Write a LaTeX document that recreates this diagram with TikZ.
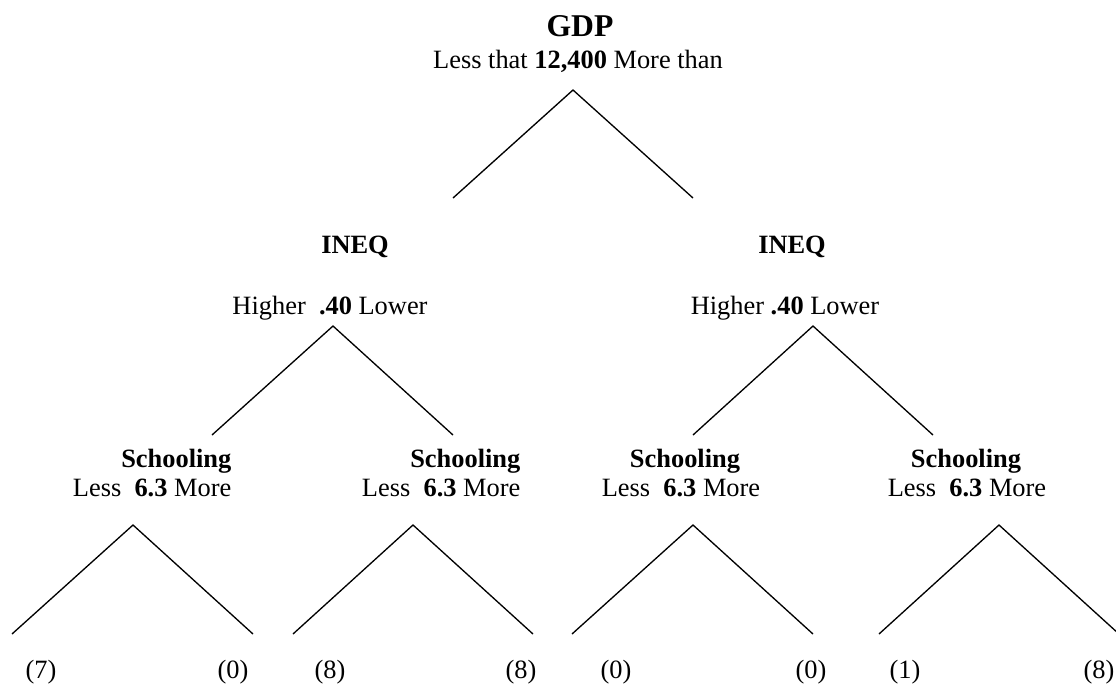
\documentclass[tikz,border=0pt]{standalone}
\usepackage{fontspec}
\setmainfont{Liberation Serif}
\begin{document}
\begin{tikzpicture}[x=0.4545pt, y=-0.4545pt, line width=0.6pt,
        lbl/.style={inner sep=0pt, anchor=base, font=\fontsize{12}{14}\selectfont},
        head/.style={lbl, font=\fontsize{12}{14}\selectfont\bfseries}]
        \useasboundingbox (0,0) rectangle (1116,691);

        % Define split labels
        \node[lbl, font=\fontsize{14.4}{17}\selectfont\bfseries] (gdp) at (580,36) {GDP};
        \node[lbl] (gdpcut) at (578,68) {Less that \textbf{12,400} More than};

        \node[head] (ineqL) at (355,253) {INEQ};
        \node[lbl] (ineqLcut) at (330,314) {Higher\ \ \textbf{.40} Lower};
        \node[head] (ineqR) at (792,253) {INEQ};
        \node[lbl] (ineqRcut) at (785,314) {Higher \textbf{.40} Lower};

        \node[head, anchor=base east] (schA) at (232,467) {Schooling};
        \node[lbl, anchor=base east] (schAcut) at (232,496) {Less\ \ \textbf{6.3} More};
        \node[head, anchor=base east] (schB) at (521,467) {Schooling};
        \node[lbl, anchor=base east] (schBcut) at (521,496) {Less\ \ \textbf{6.3} More};
        \node[head] (schC) at (685,467) {Schooling};
        \node[lbl] (schCcut) at (681,496) {Less\ \ \textbf{6.3} More};
        \node[head] (schD) at (966,467) {Schooling};
        \node[lbl] (schDcut) at (967,496) {Less\ \ \textbf{6.3} More};

        % Define leaves
        \node[lbl] (leaf1) at (41,678) {(7)};
        \node[lbl] (leaf2) at (233,678) {(0)};
        \node[lbl] (leaf3) at (330,678) {(8)};
        \node[lbl] (leaf4) at (521,678) {(8)};
        \node[lbl] (leaf5) at (616,678) {(0)};
        \node[lbl] (leaf6) at (811,678) {(0)};
        \node[lbl] (leaf7) at (905,678) {(1)};
        \node[lbl] (leaf8) at (1099,678) {(8)};

        % Define branch points
        \coordinate (gdptop) at (573,90);
        \coordinate (gdpl) at (453,198);
        \coordinate (gdpr) at (693,198);
        \coordinate (ineqLtop) at (333,326);
        \coordinate (ineqLl) at (212,435);
        \coordinate (ineqLr) at (453,435);
        \coordinate (ineqRtop) at (813,326);
        \coordinate (ineqRl) at (693,435);
        \coordinate (ineqRr) at (933,435);
        \coordinate (schAtop) at (133,525);
        \coordinate (schAl) at (12,634);
        \coordinate (schAr) at (253,634);
        \coordinate (schBtop) at (413,525);
        \coordinate (schBl) at (293,634);
        \coordinate (schBr) at (533,634);
        \coordinate (schCtop) at (693,525);
        \coordinate (schCl) at (572,634);
        \coordinate (schCr) at (813,634);
        \coordinate (schDtop) at (999,525);
        \coordinate (schDl) at (879,634);
        \coordinate (schDr) at (1119,634);

        % Draw branches
        \draw (gdpl) -- (gdptop) -- (gdpr);
        \draw (ineqLl) -- (ineqLtop) -- (ineqLr);
        \draw (ineqRl) -- (ineqRtop) -- (ineqRr);
        \draw (schAl) -- (schAtop) -- (schAr);
        \draw (schBl) -- (schBtop) -- (schBr);
        \draw (schCl) -- (schCtop) -- (schCr);
        \draw (schDl) -- (schDtop) -- (schDr);
    \end{tikzpicture}
\end{document}
